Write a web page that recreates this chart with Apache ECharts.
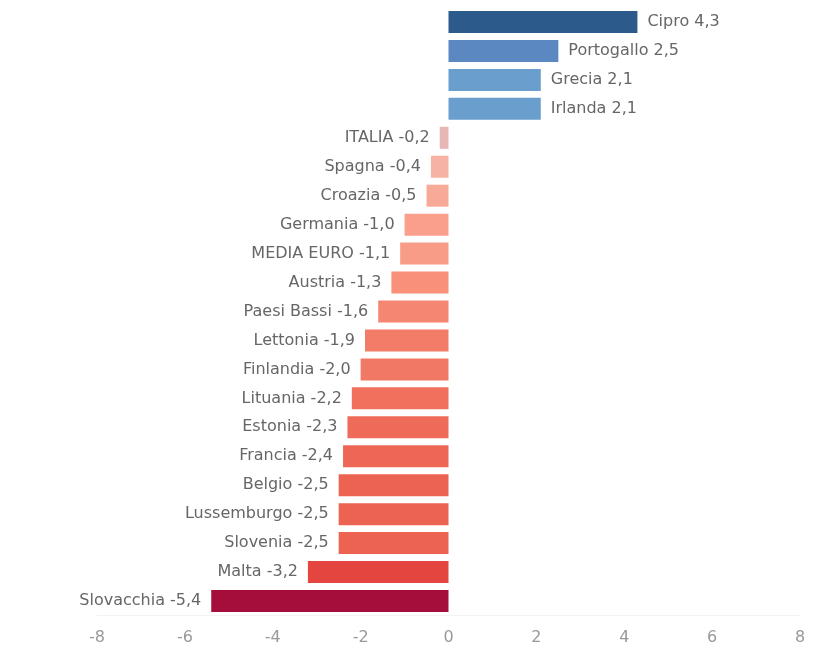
<!DOCTYPE html>
<html>
<head>
<meta charset="utf-8">
<script src="https://cdn.jsdelivr.net/npm/echarts@6/dist/echarts.min.js"></script>
<style>
  html, body { margin: 0; padding: 0; background: #ffffff; }
  #chart { width: 835px; height: 650px; }
</style>
</head>
<body>
<div id="chart"></div>
<script>
// Countries, top to bottom
const countries = [
  'Cipro', 'Portogallo', 'Grecia', 'Irlanda', 'ITALIA', 'Spagna', 'Croazia',
  'Germania', 'MEDIA EURO', 'Austria', 'Paesi Bassi', 'Lettonia', 'Finlandia',
  'Lituania', 'Estonia', 'Francia', 'Belgio', 'Lussemburgo', 'Slovenia',
  'Malta', 'Slovacchia'
];
// Change values
const values = [
  4.3, 2.5, 2.1, 2.1, -0.2, -0.4, -0.5,
  -1.0, -1.1, -1.3, -1.6, -1.9, -2.0,
  -2.2, -2.3, -2.4, -2.5, -2.5, -2.5,
  -3.2, -5.4
];
// Diverging palette, one colour per bar
const barColors = [
  '#2c5a8a', '#5b88c0', '#6a9ecd', '#6a9ecd', '#e6b7b4', '#f6b3a5', '#f7aa97',
  '#f99f8b', '#f89c88', '#f8907a', '#f58671', '#f27c68', '#f27866',
  '#f0705d', '#ef6b59', '#ee6755', '#ed6351', '#ed6351', '#ed6351',
  '#e4453f', '#a50d3a'
];
// X axis ticks
const xTicks = [-8, -6, -4, -2, 0, 2, 4, 6, 8];

const fmt = v => v.toFixed(1).replace('.', ',');

const chart = echarts.init(document.getElementById('chart'), null, { renderer: 'canvas' });

chart.setOption({
  animation: false,
  backgroundColor: '#ffffff',
  textStyle: { fontFamily: 'DejaVu Sans' },
  grid: { left: 97, right: 35, top: 7.5, bottom: 34.5, containLabel: false },
  xAxis: {
    type: 'value',
    min: xTicks[0],
    max: xTicks[xTicks.length - 1],
    interval: 2,
    axisLine: { show: true, onZero: false, lineStyle: { color: '#f2f2f2' } },
    axisTick: { show: false },
    splitLine: { show: false },
    axisLabel: { color: '#999999', fontSize: 16, margin: 14, fontFamily: 'DejaVu Sans' }
  },
  yAxis: {
    type: 'category',
    inverse: true,
    data: countries,
    axisLine: { show: false },
    axisTick: { show: false },
    axisLabel: { show: false },
    splitLine: { show: false }
  },
  series: [{
    type: 'bar',
    barWidth: 22,
    data: values.map((v, i) => ({
      value: v,
      itemStyle: { color: barColors[i] },
      label: {
        show: true,
        position: v >= 0 ? 'right' : 'left',
        distance: 10,
        formatter: countries[i] + ' ' + fmt(v),
        color: '#666666',
        fontSize: 16,
        fontFamily: 'DejaVu Sans'
      }
    }))
  }]
});
</script>
</body>
</html>
